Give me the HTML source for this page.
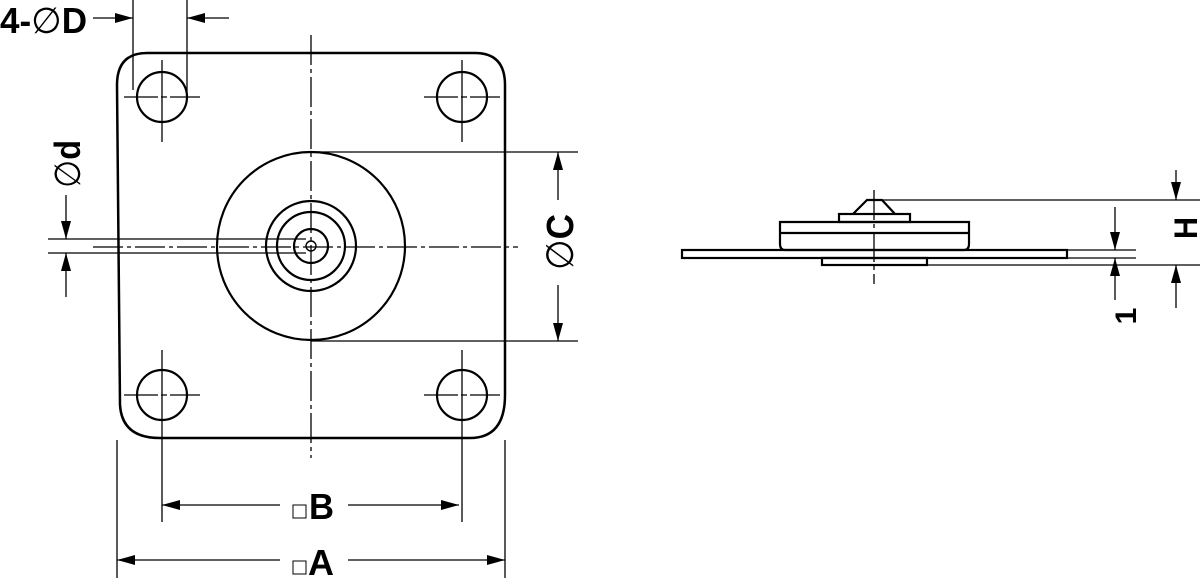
<!DOCTYPE html>
<html><head><style>
html,body{margin:0;padding:0;background:#fff;}
svg{display:block;}
text{font-family:"Liberation Sans",sans-serif;font-weight:bold;fill:#000;}
.th{font-weight:normal;}
</style></head><body>
<svg width="1200" height="578" viewBox="0 0 1200 578" xmlns="http://www.w3.org/2000/svg">
<defs>
<marker id="ar" viewBox="0 0 10 10" refX="10" refY="5" markerWidth="18" markerHeight="10" markerUnits="userSpaceOnUse" orient="auto" preserveAspectRatio="none"><path d="M0,0 L10,5 L0,10 z" fill="#000"/></marker>
</defs>
<g fill="none" stroke="#000">
<path d="M147,53 L475,53 Q505,53 505,85 L505,395 Q505,438 470,438 L160,438 Q122,438 120,405 L117,85 Q117,53 147,53 Z" stroke-width="2.5"/>
<g stroke-width="2.2"><circle cx="162" cy="97" r="25"/><circle cx="462" cy="97" r="25"/><circle cx="162" cy="395" r="25"/><circle cx="462" cy="395" r="25"/></g>
<g stroke-width="2.2"><circle cx="311" cy="246" r="94"/><circle cx="311" cy="246" r="45"/><circle cx="311" cy="246" r="34"/><circle cx="311" cy="246" r="17"/><circle cx="311" cy="246" r="5" stroke-width="1.4"/></g>
<g stroke-width="1.3">
<line x1="124" y1="97" x2="200" y2="97" stroke-dasharray="34,3,6,3"/><line x1="424" y1="97" x2="500" y2="97" stroke-dasharray="34,3,6,3"/>
<line x1="124" y1="395" x2="200" y2="395" stroke-dasharray="34,3,6,3"/><line x1="424" y1="395" x2="500" y2="395" stroke-dasharray="34,3,6,3"/>
<line x1="162" y1="60" x2="162" y2="142"/><line x1="462" y1="60" x2="462" y2="142"/>
<line x1="162" y1="350" x2="162" y2="522"/><line x1="462" y1="350" x2="462" y2="522"/>
<line x1="311" y1="35" x2="311" y2="458" stroke-dasharray="30,4,4,4"/>
<line x1="93" y1="247" x2="518" y2="247" stroke-dasharray="30,4,4,4"/>
<line x1="133" y1="0" x2="133" y2="90"/><line x1="187" y1="0" x2="187" y2="97"/>
<line x1="93" y1="18" x2="133" y2="18" marker-end="url(#ar)"/>
<line x1="229" y1="18" x2="187" y2="18" marker-end="url(#ar)"/>
<line x1="48" y1="239" x2="306" y2="239"/><line x1="48" y1="253" x2="306" y2="253"/>
<line x1="66" y1="195" x2="66" y2="239" marker-end="url(#ar)"/>
<line x1="66" y1="297" x2="66" y2="253" marker-end="url(#ar)"/>
<line x1="311" y1="152" x2="578" y2="152"/><line x1="311" y1="341" x2="578" y2="341"/>
<line x1="558" y1="200" x2="558" y2="152" marker-end="url(#ar)"/>
<line x1="558" y1="285" x2="558" y2="341" marker-end="url(#ar)"/>
<line x1="280" y1="505" x2="162" y2="505" marker-end="url(#ar)"/>
<line x1="348" y1="505" x2="459" y2="505" marker-end="url(#ar)"/>
<line x1="117" y1="440" x2="117" y2="578"/><line x1="505" y1="440" x2="505" y2="578"/>
<line x1="280" y1="560" x2="117" y2="560" marker-end="url(#ar)"/>
<line x1="348" y1="560" x2="505" y2="560" marker-end="url(#ar)"/>
</g>
<g stroke-width="2.2">
<path d="M853,214 L867,200 L882,200 L895,214"/>
<rect x="839" y="214" width="71" height="8"/>
<path d="M780,222 L969,222 L969,244 Q969,250 964,250 L785,250 Q780,250 780,244 Z"/>
<line x1="780" y1="233" x2="969" y2="233"/>
<rect x="682" y="250" width="385" height="8"/>
<rect x="822" y="258" width="105" height="7"/>
</g>
<g stroke-width="1.3">
<line x1="874" y1="190" x2="874" y2="284" stroke-dasharray="30,4,4,4"/>
<line x1="882" y1="200" x2="1200" y2="200"/>
<line x1="1067" y1="250" x2="1136" y2="250"/><line x1="1067" y1="258" x2="1136" y2="258"/>
<line x1="927" y1="265" x2="1200" y2="265"/>
<line x1="1115" y1="207" x2="1115" y2="250" marker-end="url(#ar)"/>
<line x1="1115" y1="300" x2="1115" y2="258" marker-end="url(#ar)"/>
<line x1="1176" y1="170" x2="1176" y2="200" marker-end="url(#ar)"/>
<line x1="1176" y1="308" x2="1176" y2="265" marker-end="url(#ar)"/>
</g>
</g>
<text x="0" y="33" font-size="36" textLength="87" lengthAdjust="spacingAndGlyphs">4-<tspan class="th">∅</tspan>D</text>
<text transform="translate(80,164) rotate(-90)" font-size="36" text-anchor="middle" textLength="48" lengthAdjust="spacingAndGlyphs"><tspan class="th">∅</tspan>d</text>
<text transform="translate(573,242) rotate(-90)" font-size="38" text-anchor="middle" textLength="56" lengthAdjust="spacingAndGlyphs"><tspan class="th">∅</tspan>C</text>
<text transform="translate(1197,228) rotate(-90)" font-size="32" text-anchor="middle" textLength="22" lengthAdjust="spacingAndGlyphs">H</text>
<text transform="translate(1136,316) rotate(-90)" font-size="30" text-anchor="middle">1</text>
<rect x="293" y="505" width="13" height="13" fill="none" stroke="#000" stroke-width="1"/>
<text x="309" y="519" font-size="36" textLength="25" lengthAdjust="spacingAndGlyphs">B</text>
<rect x="293" y="561" width="13" height="13" fill="none" stroke="#000" stroke-width="1"/>
<text x="308" y="575" font-size="36" textLength="26" lengthAdjust="spacingAndGlyphs">A</text>
</svg>
</body></html>
